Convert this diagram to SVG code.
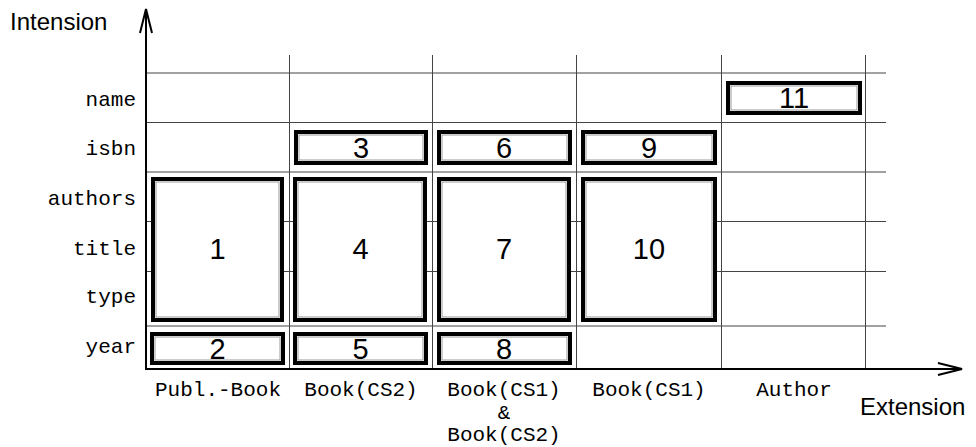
<svg xmlns="http://www.w3.org/2000/svg" width="976" height="447" viewBox="0 0 976 447">
<style>
.grid line{stroke:#444;stroke-width:1}
.box .outer{fill:#fff;stroke:#000;stroke-width:4}
.box .inner{fill:none;stroke:#999;stroke-width:1}
.num{font-family:"Liberation Sans",Arial,sans-serif;font-size:29px;text-anchor:middle;fill:#000}
.mono{font-family:"Liberation Mono","Courier New",monospace;font-size:21px;fill:#000}
.row{text-anchor:end}
.col{text-anchor:middle}
.axlabel{font-family:"Liberation Sans",Arial,sans-serif;font-size:24px;fill:#000}
.axis{stroke:#000;stroke-width:2;fill:none}
</style>
<defs>
<marker id="open" viewBox="0 0 26 14" refX="25" refY="7" markerWidth="26" markerHeight="14" markerUnits="userSpaceOnUse" orient="auto">
<path d="M1,1 L25,7 L1,13" fill="none" stroke="#000" stroke-width="2"/>
</marker>
</defs>
<rect width="976" height="447" fill="#fff"/>
<g id="grid" class="grid">
<line x1="146" y1="73" x2="886" y2="73"/>
<line x1="146" y1="122.5" x2="886" y2="122.5"/>
<line x1="146" y1="172" x2="886" y2="172"/>
<line x1="146" y1="221.5" x2="886" y2="221.5"/>
<line x1="146" y1="271.5" x2="886" y2="271.5"/>
<line x1="146" y1="326" x2="886" y2="326"/>
<line x1="289.5" y1="55" x2="289.5" y2="369"/>
<line x1="432.5" y1="55" x2="432.5" y2="369"/>
<line x1="576.5" y1="55" x2="576.5" y2="369"/>
<line x1="721.5" y1="55" x2="721.5" y2="369"/>
<line x1="865.5" y1="55" x2="865.5" y2="369"/>
</g>
<g id="connectors">
<line class="axis" x1="146" y1="370" x2="146" y2="9" marker-end="url(#open)"/>
<line class="axis" x1="145" y1="369" x2="962" y2="369" marker-end="url(#open)"/>
</g>
<g id="row-labels" class="mono row">
<text x="136" y="106">name</text>
<text x="136" y="155">isbn</text>
<text x="136" y="205">authors</text>
<text x="136" y="255">title</text>
<text x="136" y="303">type</text>
<text x="136" y="353">year</text>
</g>
<g id="col-labels" class="mono col">
<text x="218" y="396">Publ.-Book</text>
<text x="361" y="396">Book(CS2)</text>
<text x="504" y="396">Book(CS1)</text>
<text x="504" y="419">&amp;</text>
<text x="504" y="441">Book(CS2)</text>
<text x="649" y="396">Book(CS1)</text>
<text x="794" y="396">Author</text>
</g>
<text class="axlabel" x="10" y="30">Intension</text>
<text class="axlabel" x="860" y="415">Extension</text>
<g id="n1" class="box"><rect class="outer" x="153" y="179" width="129" height="141"/><rect class="inner" x="156" y="182" width="123" height="135"/><text class="num" x="217.5" y="259">1</text></g>
<g id="n2" class="box"><rect class="outer" x="152" y="334" width="131" height="29"/><rect class="inner" x="155" y="337" width="125" height="23"/><text class="num" x="217.5" y="359">2</text></g>
<g id="n3" class="box"><rect class="outer" x="296" y="132" width="130" height="31"/><rect class="inner" x="299" y="135" width="124" height="25"/><text class="num" x="361" y="158">3</text></g>
<g id="n4" class="box"><rect class="outer" x="295" y="179" width="130" height="141"/><rect class="inner" x="298" y="182" width="124" height="135"/><text class="num" x="360.5" y="259">4</text></g>
<g id="n5" class="box"><rect class="outer" x="295" y="334" width="131" height="29"/><rect class="inner" x="298" y="337" width="125" height="23"/><text class="num" x="360.5" y="359">5</text></g>
<g id="n6" class="box"><rect class="outer" x="439" y="132" width="131" height="31"/><rect class="inner" x="442" y="135" width="125" height="25"/><text class="num" x="504" y="158">6</text></g>
<g id="n7" class="box"><rect class="outer" x="439" y="179" width="130" height="141"/><rect class="inner" x="442" y="182" width="124" height="135"/><text class="num" x="504" y="259">7</text></g>
<g id="n8" class="box"><rect class="outer" x="439" y="334" width="131" height="29"/><rect class="inner" x="442" y="337" width="125" height="23"/><text class="num" x="504" y="359">8</text></g>
<g id="n9" class="box"><rect class="outer" x="583" y="132" width="132" height="31"/><rect class="inner" x="586" y="135" width="126" height="25"/><text class="num" x="649" y="158">9</text></g>
<g id="n10" class="box"><rect class="outer" x="583" y="179" width="132" height="141"/><rect class="inner" x="586" y="182" width="126" height="135"/><text class="num" x="649" y="259">10</text></g>
<g id="n11" class="box"><rect class="outer" x="728" y="83" width="132" height="30"/><rect class="inner" x="731" y="86" width="126" height="24"/><text class="num" x="794" y="108">11</text></g>
</svg>
